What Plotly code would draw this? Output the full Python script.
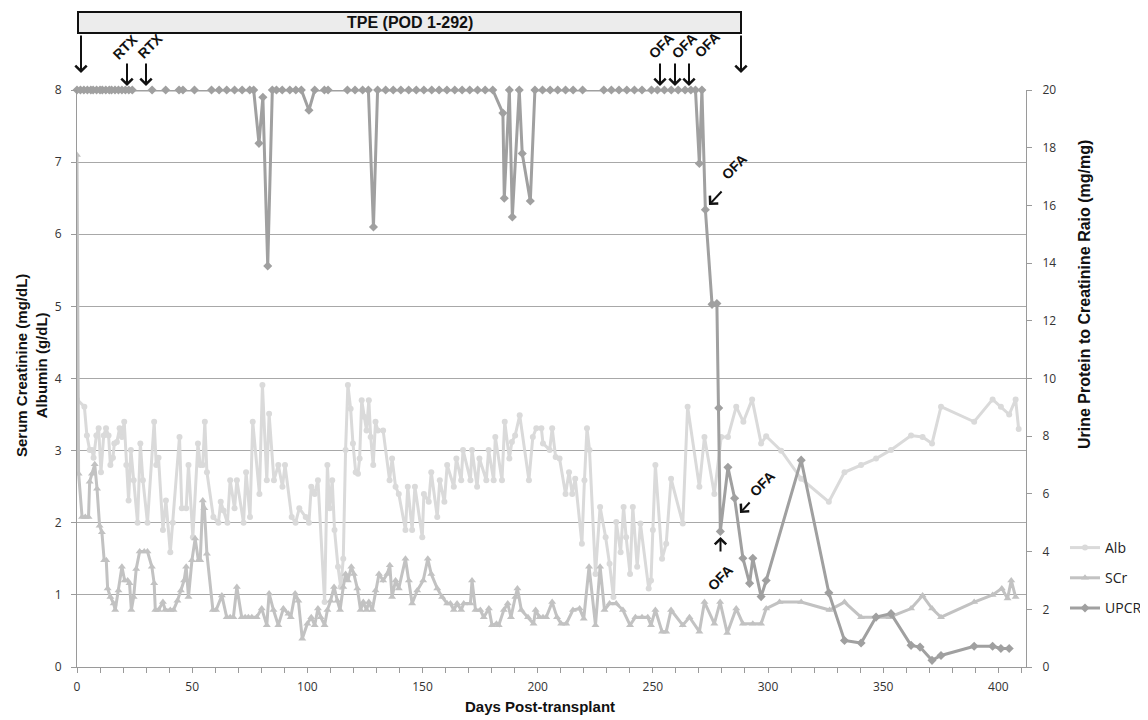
import plotly.graph_objects as go

# ---------------- data (day post-transplant, value) ----------------
alb_points = [
    (0.0, 3.71), (3.2, 3.61), (4.3, 3.21), (5.5, 3.01), (6.5, 3.01), (7.2, 2.90), (8.4, 3.21), (9.4, 3.31),
    (10.4, 2.70), (11.6, 3.21), (12.6, 3.31), (13.7, 3.21), (14.5, 2.80), (15.6, 2.90), (16.2, 3.10), (17.3, 3.12),
    (18.5, 3.31), (19.5, 3.19), (20.5, 3.40), (21.4, 2.80), (22.4, 2.31), (23.4, 3.01), (24.6, 2.59), (26.3, 2.00),
    (27.5, 3.10), (28.6, 2.59), (30.6, 2.00), (33.5, 3.40), (34.4, 2.80), (35.4, 2.90), (37.3, 1.90), (38.6, 2.31),
    (40.5, 1.59), (41.6, 2.00), (44.5, 3.19), (45.5, 2.20), (47.4, 2.20), (48.4, 2.80), (50.3, 1.80), (52.5, 3.10),
    (53.5, 2.80), (54.6, 2.80), (55.5, 3.40), (56.4, 2.70), (59.2, 2.08), (61.4, 2.00), (62.4, 2.29), (63.6, 2.17),
    (65.3, 2.00), (66.5, 2.59), (68.4, 2.20), (69.4, 2.59), (72.3, 2.00), (73.4, 2.70), (75.1, 2.08), (76.3, 3.40),
    (79.2, 2.40), (80.5, 3.91), (82.4, 2.59), (83.4, 3.51), (85.5, 2.59), (87.4, 2.80), (89.2, 2.50), (90.3, 2.80),
    (93.2, 2.08), (94.9, 2.00), (96.5, 2.20), (99.3, 2.08), (100.7, 2.00), (101.7, 2.50), (103.2, 2.40), (104.6, 2.59),
    (107.5, 0.90), (108.7, 2.80), (109.7, 2.20), (110.8, 2.59), (111.8, 1.90), (113.3, 1.39), (114.5, 1.11), (115.6, 1.50),
    (116.6, 3.01), (117.6, 3.91), (118.8, 3.58), (119.8, 3.10), (121.0, 2.70), (122.0, 2.68), (122.7, 2.89), (123.6, 3.70),
    (124.6, 3.47), (125.7, 3.28), (126.7, 3.70), (127.5, 3.19), (128.6, 2.80), (129.6, 3.40), (130.6, 3.28), (132.9, 3.28),
    (135.7, 2.59), (136.8, 2.89), (138.3, 2.50), (139.7, 2.40), (142.6, 1.90), (143.6, 2.50), (145.5, 1.90), (146.7, 2.50),
    (149.9, 1.80), (150.6, 2.40), (152.7, 2.29), (153.8, 2.70), (156.4, 2.08), (157.5, 2.59), (159.5, 2.29), (160.7, 2.80),
    (163.6, 2.50), (164.7, 2.89), (166.8, 2.59), (167.6, 3.01), (170.8, 2.59), (171.5, 3.01), (173.7, 2.50), (174.7, 2.89),
    (177.7, 2.59), (178.7, 3.01), (180.9, 2.59), (181.6, 3.19), (184.5, 2.59), (185.7, 3.40), (187.7, 2.89), (188.8, 3.12),
    (190.2, 3.21), (192.2, 3.49), (196.2, 2.59), (197.9, 3.19), (199.4, 3.31), (201.6, 3.31), (202.3, 3.10), (205.2, 3.01),
    (206.3, 3.31), (207.8, 2.91), (209.5, 2.89), (212.1, 2.40), (213.6, 2.70), (215.0, 2.40), (216.3, 2.61), (219.2, 1.71),
    (220.3, 2.59), (221.4, 3.31), (222.5, 3.01), (225.1, 1.29), (227.1, 2.22), (229.5, 1.80), (231.2, 1.43), (232.9, 0.97),
    (234.1, 2.01), (236.0, 1.59), (237.3, 2.22), (238.4, 1.80), (240.1, 1.29), (241.3, 2.22), (243.2, 1.39), (244.6, 1.99),
    (248.2, 1.09), (249.2, 1.20), (250.0, 1.90), (251.1, 2.80), (254.0, 1.50), (255.8, 1.71), (257.9, 2.61), (263.0, 1.99),
    (265.1, 3.61), (270.2, 2.50), (272.4, 3.19), (276.7, 2.40), (279.7, 3.19), (282.6, 3.19), (286.2, 3.61), (289.3, 3.40),
    (293.1, 3.71), (297.0, 3.10), (299.2, 3.20), (305.7, 3.00), (314.4, 2.61), (326.4, 2.29), (333.2, 2.70), (340.4, 2.80),
    (346.9, 2.89), (353.4, 3.01), (362.1, 3.21), (367.1, 3.19), (371.2, 3.10), (375.1, 3.61), (389.5, 3.40), (397.5, 3.71),
    (401.1, 3.61), (404.7, 3.50), (407.5, 3.71), (408.8, 3.30),
]

scr_points = [
    (0.0, 7.10), (0.7, 2.68), (2.2, 2.08), (3.6, 2.08), (5.0, 2.08), (5.5, 2.57), (6.5, 2.68), (7.7, 2.81),
    (8.7, 2.47), (9.8, 1.96), (10.8, 1.87), (11.8, 1.48), (12.7, 1.48), (13.3, 1.09), (14.5, 0.97), (15.9, 0.88),
    (16.6, 0.79), (18.0, 1.06), (19.5, 1.39), (20.7, 1.20), (22.0, 1.20), (22.8, 1.16), (23.6, 0.79), (24.6, 0.97),
    (25.7, 1.36), (27.2, 1.60), (29.2, 1.60), (30.6, 1.60), (32.5, 1.39), (33.5, 1.16), (34.0, 0.79), (35.4, 0.79),
    (37.3, 0.90), (38.3, 0.79), (40.5, 0.79), (41.9, 0.79), (43.6, 0.92), (45.1, 1.06), (46.5, 1.20), (47.4, 1.39),
    (48.4, 0.97), (49.9, 1.48), (51.3, 1.78), (52.7, 1.48), (53.5, 1.48), (54.6, 2.31), (55.3, 2.20), (56.4, 1.57),
    (59.0, 0.79), (60.4, 0.79), (62.9, 0.99), (65.0, 0.69), (66.5, 0.69), (67.9, 0.69), (69.4, 1.11), (71.5, 0.69),
    (73.0, 0.69), (74.4, 0.69), (75.9, 0.69), (78.0, 0.69), (80.2, 0.81), (82.4, 0.58), (83.4, 1.02), (85.3, 0.79),
    (87.4, 0.58), (89.6, 0.81), (91.8, 0.74), (92.8, 0.69), (94.7, 1.02), (96.1, 0.92), (97.8, 0.39), (100.0, 0.60),
    (101.7, 0.69), (103.2, 0.58), (104.6, 0.81), (105.8, 0.69), (107.5, 0.58), (108.7, 0.79), (110.1, 0.92), (111.6, 1.11),
    (113.0, 0.92), (114.2, 0.79), (115.6, 1.11), (116.6, 1.29), (117.6, 1.20), (119.1, 1.39), (120.2, 1.29), (121.7, 1.09),
    (123.1, 0.79), (124.3, 0.90), (125.7, 0.79), (126.7, 0.90), (128.2, 0.79), (129.6, 1.06), (131.1, 1.29), (132.9, 1.20),
    (134.7, 1.29), (135.8, 1.41), (136.8, 0.97), (138.3, 1.20), (139.7, 1.09), (142.6, 1.50), (144.1, 1.20), (145.5, 0.88),
    (147.7, 1.06), (150.3, 1.20), (152.3, 1.50), (153.8, 1.29), (156.4, 1.09), (158.5, 0.97), (160.7, 0.88), (162.1, 0.88),
    (163.6, 0.79), (165.0, 0.88), (166.8, 0.79), (167.9, 0.88), (170.8, 0.88), (171.5, 1.20), (173.0, 0.79), (175.1, 0.79),
    (176.6, 0.69), (178.8, 0.81), (180.2, 0.58), (182.1, 0.60), (183.1, 0.58), (185.3, 0.79), (187.0, 0.88), (188.4, 0.69),
    (190.3, 0.97), (191.2, 1.09), (192.9, 0.79), (195.8, 0.69), (198.2, 0.60), (199.1, 0.79), (200.8, 0.69), (202.3, 0.69),
    (203.7, 0.69), (206.3, 0.90), (208.4, 0.69), (210.2, 0.60), (212.4, 0.60), (215.3, 0.79), (218.2, 0.81), (220.0, 0.67),
    (222.3, 1.39), (225.1, 0.58), (227.1, 1.39), (229.0, 0.79), (231.2, 0.88), (234.1, 0.88), (237.0, 0.79), (240.1, 0.58),
    (242.4, 0.69), (245.3, 0.69), (247.8, 0.69), (249.2, 0.58), (251.1, 0.79), (254.0, 0.49), (255.8, 0.49), (257.9, 0.79),
    (263.0, 0.58), (265.9, 0.69), (270.2, 0.49), (272.4, 0.90), (276.7, 0.60), (279.2, 0.90), (282.3, 0.47), (286.2, 0.81),
    (289.1, 0.60), (293.4, 0.60), (297.0, 0.60), (299.2, 0.81), (305.0, 0.90), (314.4, 0.90), (326.7, 0.79), (333.2, 0.90),
    (340.4, 0.69), (346.9, 0.69), (352.7, 0.69), (362.1, 0.81), (367.1, 0.99), (371.2, 0.81), (375.1, 0.69), (389.5, 0.90),
    (397.5, 1.00), (401.5, 1.09), (404.0, 0.95), (405.6, 1.20), (407.5, 0.97),
]

upcr_points = [
    (0.0, 20), (1.5, 20), (3.0, 20), (4.5, 20), (6.0, 20), (7.0, 20), (8.5, 20), (10.0, 20), (11.0, 20),
    (12.5, 20), (14.0, 20), (15.0, 20), (16.5, 20), (18.0, 20), (19.5, 20), (21.0, 20), (22.5, 20), (24.0, 20),
    (32.6, 20), (38.5, 20), (44.3, 20), (46.0, 20), (51.0, 20), (58.4, 20), (61.7, 20), (65.0, 20), (68.4, 20),
    (71.7, 20), (75.0, 20), (76.7, 20), (79.0, 18.15), (80.7, 19.75), (82.8, 13.9), (84.8, 20), (86.6, 20),
    (89.1, 20), (92.4, 20), (95.0, 20), (97.4, 20), (100.7, 19.3), (103.2, 20), (107.4, 20), (109.0, 20),
    (117.4, 20), (120.7, 20), (124.0, 20), (126.5, 20), (128.7, 15.25), (130.5, 20), (134.0, 20), (137.3, 20),
    (140.6, 20), (144.0, 20), (147.3, 20), (150.6, 20), (154.0, 20), (157.2, 20), (160.6, 20), (164.0, 20),
    (167.2, 20), (170.5, 20), (173.9, 20), (177.2, 20), (180.5, 20), (184.9, 19.2), (185.5, 16.25), (187.7, 20),
    (189.0, 15.6), (192.0, 20), (193.3, 17.8), (196.8, 16.15), (198.8, 20), (202.1, 20), (205.4, 20), (208.7, 20),
    (212.1, 20), (215.4, 20), (219.5, 20), (228.7, 20), (232.0, 20), (235.3, 20), (238.7, 20), (242.0, 20),
    (245.3, 20), (249.4, 20), (252.0, 20), (255.0, 20), (258.0, 20), (261.0, 20), (264.0, 20), (266.5, 20),
    (268.5, 20), (270.2, 17.45), (271.3, 20), (272.8, 15.85), (275.7, 12.57), (277.8, 12.6), (278.6, 8.98),
    (279.3, 4.7), (282.6, 6.92), (285.5, 5.85), (289.1, 3.77), (292.0, 2.9), (293.4, 3.77), (297.0, 2.44),
    (299.2, 3.0), (314.4, 7.17), (326.4, 2.57), (333.2, 0.92), (340.4, 0.83), (346.9, 1.73), (353.4, 1.85),
    (362.1, 0.75), (366.0, 0.69), (371.2, 0.23), (375.1, 0.40), (389.5, 0.72), (397.5, 0.72), (401.1, 0.64),
    (404.7, 0.64),
]

left_ticks = [0, 1, 2, 3, 4, 5, 6, 7, 8]
right_ticks = [0, 2, 4, 6, 8, 10, 12, 14, 16, 18, 20]
x_ticks = [0, 50, 100, 150, 200, 250, 300, 350, 400]

# ---------------- layout helpers ----------------
# the page body has an 8px margin, so the figure is drawn 8px right/down
OFF = 8
W, H = 1148 - OFF, 720 - OFF
L, T = 77 - OFF, 90 - OFF
R = W - (1026 - OFF)
B = H - (667 - OFF)
PW, PH = W - L - R, H - T - B


def px(x):
    """screen x of the reference -> paper x"""
    return (x - OFF - L) / PW


def py(y):
    """screen y of the reference -> paper y"""
    return (H - B - (y - OFF)) / PH


FONT = "Liberation Sans, Arial, sans-serif"
TICKFONT = dict(family="Open Sans, Liberation Sans, sans-serif", size=12, color="#333333")

ALB_C = "#dadada"
SCR_C = "#c2c2c2"
UPCR_C = "#a0a0a0"

fig = go.Figure()
fig.add_trace(go.Scatter(
    x=[p[0] for p in alb_points], y=[p[1] for p in alb_points], name="Alb",
    mode="lines+markers", line=dict(color=ALB_C, width=3),
    marker=dict(symbol="circle", size=6, color=ALB_C), legendgroup="alb", yaxis="y"))
fig.add_trace(go.Scatter(
    x=[p[0] for p in scr_points], y=[p[1] for p in scr_points], name="SCr",
    mode="lines+markers", line=dict(color=SCR_C, width=3),
    marker=dict(symbol="triangle-up", size=7, color=SCR_C), legendgroup="scr", yaxis="y"))
fig.add_trace(go.Scatter(
    x=[p[0] for p in upcr_points], y=[p[1] for p in upcr_points], name="UPCR",
    mode="lines+markers", line=dict(color=UPCR_C, width=3), cliponaxis=False,
    marker=dict(symbol="diamond", size=7, color=UPCR_C), legendgroup="upcr", yaxis="y2"))

axis_common = dict(showline=True, linecolor="#9a9a9a", linewidth=1, ticks="outside",
                   ticklen=5, tickcolor="#9a9a9a", zeroline=False, tickfont=TICKFONT, automargin=False)

fig.update_layout(
    width=W, height=H, margin=dict(l=L, r=R, t=T, b=B, autoexpand=False),
    plot_bgcolor="white", paper_bgcolor="white",
    font=dict(family=FONT, color="#222222"),
    xaxis=dict(range=[0, 412], tickvals=x_ticks, showgrid=False, ticklabelstandoff=4,
               minor=dict(dtick=10, tick0=0, ticks="outside", ticklen=5, tickcolor="#9a9a9a", showgrid=False),
               **axis_common),
    yaxis=dict(range=[0, 8], tickvals=left_ticks, showgrid=True, gridcolor="#a8a8a8", gridwidth=1,
               ticklabelstandoff=7, **axis_common),
    yaxis2=dict(range=[0, 20], tickvals=right_ticks, overlaying="y", side="right", showgrid=False,
                ticklabelstandoff=8, **axis_common),
    legend=dict(x=px(1065), y=py(532), xanchor="left", yanchor="top",
                font=dict(family="Open Sans, Liberation Sans, sans-serif", size=14, color="#222222"),
                tracegroupgap=9, bgcolor="rgba(0,0,0,0)"),
    showlegend=True,
)

# TPE banner
fig.add_shape(type="rect", xref="paper", yref="paper", x0=px(78), x1=px(741), y0=py(33), y1=py(12),
              fillcolor="#ececec", line=dict(color="#111111", width=2), layer="above")

ann = []


def text(cx, cy, txt, angle=0, size=14):
    return dict(x=px(cx), y=py(cy), xref="paper", yref="paper", text=txt,
                xanchor="center", yanchor="middle", showarrow=False, textangle=angle,
                font=dict(family=FONT, size=size, color="#111111"))


def arrow(tipx, tipy, dx, dy):
    # dx, dy: tail offset from tip in pixels
    return dict(x=px(tipx), y=py(tipy), xref="paper", yref="paper", text="", showarrow=True,
                ax=dx, ay=dy, arrowhead=4, arrowsize=1.1, arrowwidth=2, arrowcolor="#111111")


ann.append(text(410, 22.5, "<b>TPE (POD 1-292)</b>", size=16))

# TPE end arrows
ann.append(arrow(81, 73, 0, -39))
ann.append(arrow(741, 73, 0, -39))
# RTX
ann.append(arrow(127, 86, 0, -24))
ann.append(arrow(146, 86, 0, -24))
ann.append(text(125, 47, "<b>RTX</b>", -45))
ann.append(text(150, 46, "<b>RTX</b>", -45))
# OFA top
ann.append(arrow(660, 86, 0, -24))
ann.append(arrow(675, 86, 0, -24))
ann.append(arrow(689, 86, 0, -24))
ann.append(text(661, 46, "<b>OFA</b>", -45))
ann.append(text(684, 46, "<b>OFA</b>", -45))
ann.append(text(707, 45, "<b>OFA</b>", -45))
# OFA along the UPCR decline
ann.append(arrow(709, 205, 14, -15))
ann.append(text(734, 167, "<b>OFA</b>", -45))
ann.append(arrow(740, 513, 11, -12))
ann.append(text(762, 484, "<b>OFA</b>", -45))
ann.append(arrow(720.5, 537, 0, 16))
ann.append(text(720, 578, "<b>OFA</b>", -45))

# axis titles
ann.append(text(31, 366, "<b>Serum Creatinine (mg/dL)<br>Albumin (g/dL)</b>", -90, 15))
ann.append(text(1084, 295, "<b>Urine Protein to Creatinine Raio (mg/mg)</b>", -90, 16))
ann.append(text(540, 706, "<b>Days Post-transplant</b>", 0, 15))

fig.update_layout(annotations=ann)

fig.write_html("out.html")
